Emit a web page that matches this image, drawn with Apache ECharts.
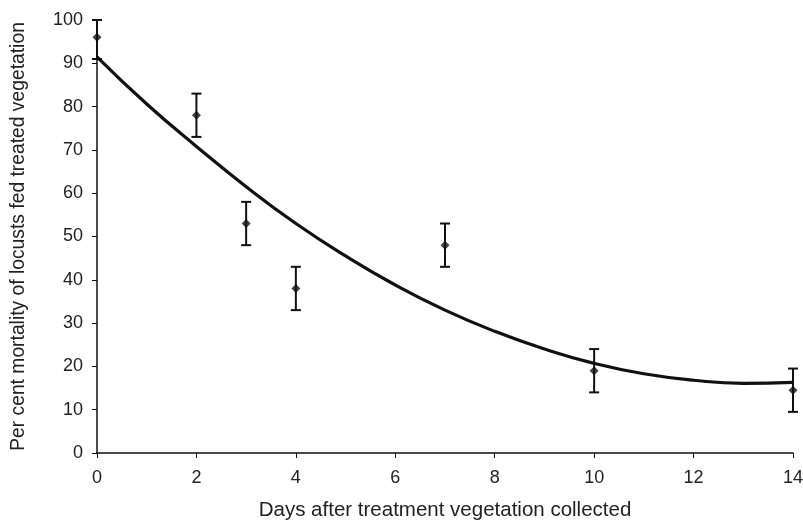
<!DOCTYPE html>
<html lang="en">
<head>
	<meta charset="UTF-8">
	<title>locust mortality</title>
	<script src="https://cdn.jsdelivr.net/npm/echarts@6/dist/echarts.min.js"></script>
</head>
<body style="margin:0;background:#fff;">
	<div id="chart" style="width:803px;height:523px;"></div>
<script type="text/javascript">
	// 观测值
	let days = [0, 2, 3, 4, 7, 10, 14];
	let mortality = [96, 78, 53, 38, 48, 19, 14.5];
	let errLow = [91, 73, 48, 33, 43, 14, 9.5];
	let errHigh = [100, 83, 58, 43, 53, 24, 19.5];
	// 拟合曲线
	let fitDays = [0, 1, 2, 3, 4, 5, 6, 7, 8, 9, 10, 11, 12, 13, 14];
	let fitValues = [91.5, 80.6, 70.8, 61.5, 53, 45.5, 38.8, 33, 28.1, 24, 20.7, 18.3, 16.8, 16.1, 16.3];

	let myChart = echarts.init(document.getElementById('chart'));
	let font = 'Liberation Sans, Arial, sans-serif';

	let option = {
		animation: false,
		grid: { left: 97, right: 10, top: 20, bottom: 70, outerBoundsMode: 'none' },
		xAxis: {
			type: 'value',
			min: 0,
			max: 14,
			interval: 2,
			name: 'Days after treatment vegetation collected',
			nameLocation: 'middle',
			nameGap: 47,
			nameTextStyle: { color: '#222', fontSize: 20.5, fontFamily: font },
			axisLine: { lineStyle: { color: '#111', width: 1.5 } },
			axisTick: { length: 5, lineStyle: { color: '#111' } },
			axisLabel: { color: '#222', fontSize: 18, fontFamily: font, margin: 16 },
			splitLine: { show: false }
		},
		yAxis: {
			type: 'value',
			min: 0,
			max: 100,
			interval: 10,
			name: 'Per cent mortality of locusts fed treated vegetation',
			nameLocation: 'middle',
			nameGap: 69,
			nameTextStyle: { color: '#222', fontSize: 19.3, fontFamily: font },
			axisLine: { show: true, lineStyle: { color: '#111', width: 1.5 } },
			axisTick: { show: true, length: 5, lineStyle: { color: '#111' } },
			axisLabel: { color: '#222', fontSize: 18, fontFamily: font, margin: 14 },
			splitLine: { show: false }
		},
		series: [
			{
				type: 'line',
				smooth: true,
				symbol: 'none',
				lineStyle: { color: '#111', width: 3.2 },
				data: fitDays.map((d, i) => [d, fitValues[i]]),
				z: 3
			},
			{
				type: 'custom',
				data: days.map((d, i) => [d, errLow[i], errHigh[i]]),
				renderItem: function (params, api) {
					let lo = api.coord([api.value(0), api.value(1)]);
					let hi = api.coord([api.value(0), api.value(2)]);
					let w = 5;
					let style = { stroke: '#111', lineWidth: 2 };
					return {
						type: 'group',
						children: [
							{ type: 'line', shape: { x1: lo[0], y1: lo[1], x2: hi[0], y2: hi[1] }, style: style },
							{ type: 'line', shape: { x1: lo[0] - w, y1: lo[1], x2: lo[0] + w, y2: lo[1] }, style: style },
							{ type: 'line', shape: { x1: hi[0] - w, y1: hi[1], x2: hi[0] + w, y2: hi[1] }, style: style }
						]
					};
				},
				z: 4
			},
			{
				type: 'scatter',
				symbol: 'diamond',
				symbolSize: 9,
				itemStyle: { color: '#111' },
				data: days.map((d, i) => [d, mortality[i]]),
				z: 5
			}
		]
	};
	myChart.setOption(option);
</script>
</body>
</html>
